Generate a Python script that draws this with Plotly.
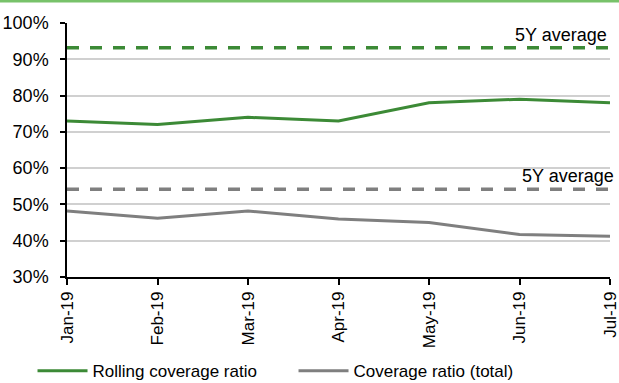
import plotly.graph_objects as go

months = ["Jan-19", "Feb-19", "Mar-19", "Apr-19", "May-19", "Jun-19", "Jul-19"]
rolling = [73, 72, 74, 73, 78, 79, 78]
total = [48.2, 46.2, 48.2, 46.0, 45.0, 41.7, 41.2]
rolling_avg = 93.2
total_avg = 54.2

green = "#3c8a36"
gray = "#7f7f7f"
font = "Liberation Sans, Arial, sans-serif"

fig = go.Figure()
fig.add_trace(go.Scatter(x=months, y=[rolling_avg] * len(months), mode="lines",
                         line=dict(color=green, width=3.5, dash="12px,11px"),
                         showlegend=False, hoverinfo="skip"))
fig.add_trace(go.Scatter(x=months, y=[total_avg] * len(months), mode="lines",
                         line=dict(color=gray, width=3.5, dash="12px,11px"),
                         showlegend=False, hoverinfo="skip"))
fig.add_trace(go.Scatter(x=months, y=rolling, mode="lines", name="Rolling coverage ratio",
                         line=dict(color=green, width=3)))
fig.add_trace(go.Scatter(x=months, y=total, mode="lines", name="Coverage ratio (total)",
                         line=dict(color=gray, width=3)))

fig.add_annotation(x=months[-1], y=rolling_avg, xref="x", yref="y", text="5Y average",
                   showarrow=False, xanchor="right", yanchor="bottom", yshift=1, xshift=-1,
                   font=dict(size=18, color="black", family=font))
fig.add_annotation(x=months[-1], y=total_avg, xref="x", yref="y", text="5Y average",
                   showarrow=False, xanchor="right", yanchor="bottom", yshift=1, xshift=6,
                   font=dict(size=18, color="black", family=font))

H = 254.0
W = 543.0
fig.add_shape(type="rect", xref="paper", yref="paper",
              x0=-67 / W, x1=1 + 9 / W, y0=1 + 20.5 / H, y1=1 + 23 / H,
              fillcolor="#78c26a", line=dict(width=0), layer="above")

fig.update_layout(
    width=619, height=383,
    margin=dict(l=67, r=9, t=23, b=106, autoexpand=False),
    paper_bgcolor="white", plot_bgcolor="white",
    font=dict(family=font, size=17, color="black"),
    showlegend=True,
    legend=dict(orientation="h", x=-0.0635, xanchor="left", y=-0.30, yanchor="top",
                font=dict(size=17, family=font), entrywidth=196, entrywidthmode="pixels",
                itemwidth=50, bgcolor="rgba(0,0,0,0)", traceorder="normal"),
)
fig.update_xaxes(type="category", range=[0, 6], showline=True, linecolor="black", linewidth=1.5,
                 ticks="outside", ticklen=6, tickcolor="black", tickwidth=1.5, automargin=False,
                 tickangle=-90, showgrid=False, tickfont=dict(size=17, family=font))
fig.update_yaxes(range=[30, 100], dtick=10, ticksuffix="%", showline=True, linecolor="black",
                 linewidth=1.5, ticks="outside", ticklen=5, tickcolor="black", tickwidth=1.5,
                 gridcolor="#d0d0d0", gridwidth=1.5, zeroline=False, automargin=False,
                 ticklabelstandoff=8, tickfont=dict(size=18, family=font))

fig.write_html("out.html", config={"displayModeBar": False},
               post_script="document.body.style.margin='0';")
